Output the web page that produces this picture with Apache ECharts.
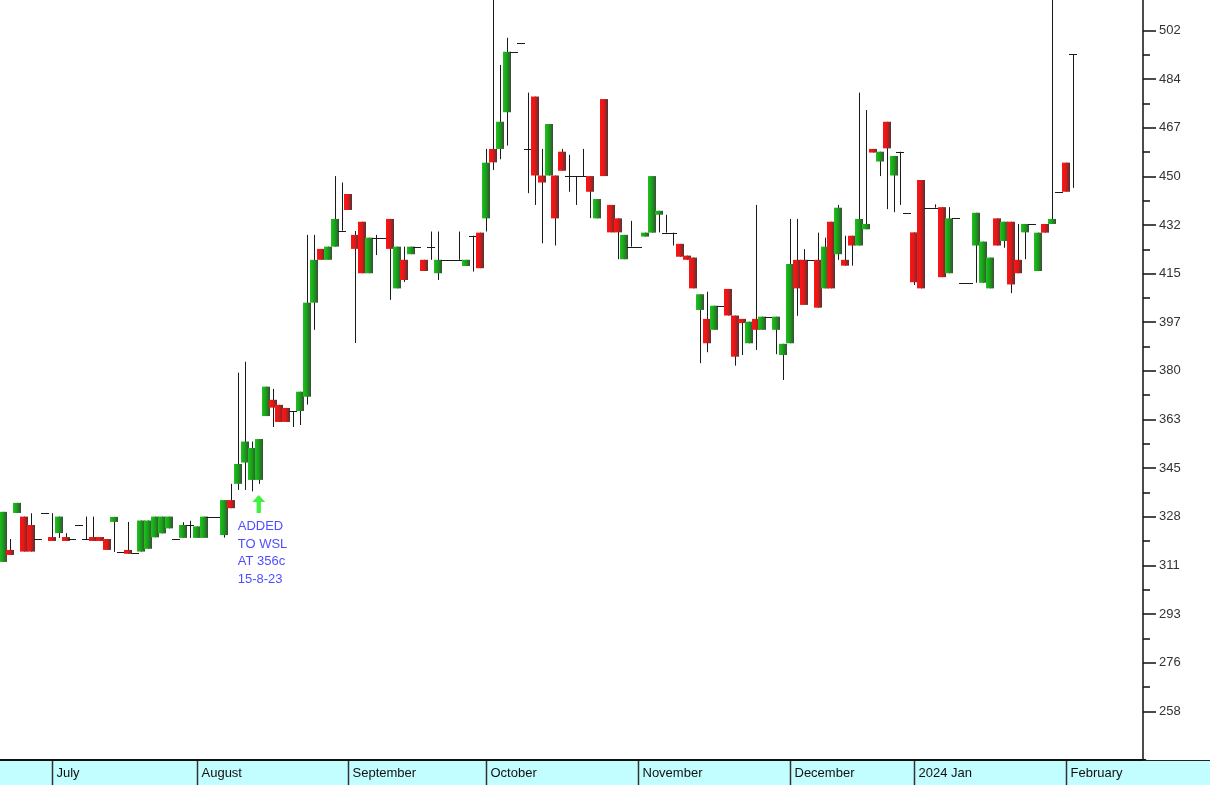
<!DOCTYPE html>
<html><head><meta charset="utf-8">
<script src="https://cdn.jsdelivr.net/npm/echarts@6/dist/echarts.min.js"></script>
<style>html,body{margin:0;padding:0;background:#fff;}#c{width:1210px;height:785px;}</style>
</head><body><div id="c"></div>
<script>
// ---- trading days (categories) ----
const junDays = [21,22,23,26,27,28,29,30];
const julDays = [3,4,5,6,7,10,11,12,13,14,17,18,19,20,21,24,25,26,27,28,31];
const augDays = [1,2,3,4,7,8,10,11,14,15,16,17,18,21,22,23,24,25,28,29,30,31];
const sepDays = [1,4,5,6,7,8,11,12,13,14,15,18,19,20,21,22,26,27,28,29];
const octDays = [2,3,4,5,6,9,10,11,12,13,16,17,18,19,20,23,24,25,26,27,30,31];
const novDays = [1,2,3,6,7,8,9,10,13,14,15,16,17,20,21,22,23,24,27,28,29,30];
const decDays = [1,4,5,6,7,8,11,12,13,14,15,18,19,20,21,22,27,28];
const janDays = [2,3,4,5,8,9,10,11,12,15,16,17,18,19,22,23,24,25,26,29,30,31];
const febDays = [1,2,5,6,7,8,9,12,13,14,15];
const monthNames = ['June','July','August','September','October','November','December','2024 Jan','February'];

// ---- price series (cents) ----
const opens = [311.8,316.1,329.3,328.0,325.0,319.9,329.2,320.7,322.1,320.7,320.0,325.0,320.0,320.7,320.7,320.0,326.1,315.4,316.1,315.0,
315.5,316.5,320.6,322.0,323.8,320.0,320.4,325.0,320.4,320.4,328.0,328.0,321.4,333.9,339.7,347.3,341.1,341.1,363.9,369.7,
367.9,366.8,365.7,365.7,370.8,404.4,423.6,419.7,424.4,430.1,443.2,428.6,433.3,414.9,427.4,427.4,434.3,409.5,419.7,421.7,
424.4,419.7,424.4,414.9,419.7,419.7,419.7,417.5,428.3,429.4,434.5,459.3,459.3,472.4,494.0,497.3,459.2,478.0,449.8,449.8,
449.8,458.3,449.6,449.6,449.6,449.6,434.5,477.1,439.3,434.5,419.9,424.4,424.4,428.0,429.4,435.8,429.4,429.4,425.4,421.2,
420.5,401.8,398.6,394.7,403.3,409.3,399.8,398.6,389.9,398.6,394.7,399.4,394.7,385.7,389.9,419.7,419.7,419.7,419.7,409.5,
433.3,421.7,419.7,428.3,424.8,430.6,459.3,454.8,469.0,449.8,458.3,436.5,429.5,448.2,438.3,438.3,438.5,414.9,434.5,411.5,
411.5,424.8,411.5,409.5,434.5,426.4,433.3,419.7,429.5,432.5,415.7,432.5,432.5,444.0,454.4,493.2];
const highs = [329.7,320.0,332.9,328.0,329.2,319.9,329.2,329.2,328.0,322.1,320.0,325.0,328.0,328.0,320.7,320.0,327.9,315.4,326.1,315.0,
326.6,326.6,328.0,328.0,328.0,320.0,326.0,326.5,324.5,328.0,328.0,328.0,333.9,339.7,379.4,383.3,354.8,355.7,374.4,373.6,
367.9,366.8,365.7,372.6,428.6,428.6,423.6,424.4,449.6,447.3,443.2,430.0,433.3,427.6,428.6,427.4,434.3,424.4,424.4,424.4,
424.4,419.7,429.8,429.8,419.7,419.7,429.8,419.7,428.3,429.4,459.3,525.0,489.3,499.0,494.0,497.3,479.4,478.0,459.3,468.2,
449.8,459.3,457.2,449.6,459.3,449.6,441.4,477.1,439.3,434.5,428.6,433.6,424.4,429.4,449.6,437.2,435.8,429.4,425.4,421.2,
420.5,407.4,408.3,403.3,403.3,409.3,399.8,398.6,397.6,439.3,399.4,399.4,399.4,389.7,434.3,434.3,423.5,419.7,429.4,427.6,
433.3,439.3,428.3,428.3,479.4,473.2,459.3,458.3,469.0,456.8,458.3,436.5,429.5,448.2,438.3,439.5,438.5,438.5,434.5,411.5,
411.5,436.5,426.2,420.5,434.5,433.3,433.3,432.5,432.5,432.5,429.4,432.5,525.0,444.0,454.4,493.2];
const lows = [311.8,314.3,329.3,315.5,315.5,319.9,329.2,319.3,320.4,319.3,320.0,325.0,320.0,319.3,319.3,316.1,315.4,315.4,314.7,315.0,
315.5,316.5,320.6,322.0,323.8,320.0,320.4,320.4,320.4,320.4,328.0,328.0,320.5,331.0,337.5,337.5,337.0,339.7,363.9,360.0,
361.8,361.8,360.0,360.7,368.0,394.7,419.7,419.7,424.4,430.1,437.5,390.0,414.9,414.9,421.4,427.4,405.4,409.5,411.8,421.7,
424.4,415.7,419.7,412.5,419.7,419.7,419.7,417.5,415.5,416.7,429.8,451.8,455.6,460.5,494.0,497.3,443.5,439.3,425.6,449.8,
424.8,451.5,444.0,439.3,449.6,434.6,434.5,449.6,429.5,419.9,419.9,424.4,424.4,428.0,429.4,429.5,429.4,424.8,420.8,419.7,
409.5,382.8,386.7,394.7,403.3,399.8,381.9,385.7,389.9,387.5,394.7,399.4,386.0,376.8,389.9,399.7,403.6,419.7,402.6,409.5,
409.5,419.7,417.6,417.6,424.8,430.6,458.0,449.6,437.8,436.7,439.3,436.5,410.7,409.5,438.3,438.3,413.5,414.9,434.5,411.5,
411.5,411.5,411.5,409.5,424.8,424.0,407.8,414.9,419.9,432.5,415.7,429.4,432.5,444.0,444.0,445.4];
const closes = [329.7,314.3,332.9,315.5,315.5,319.9,329.2,319.3,328.0,319.3,320.0,325.0,320.0,319.3,319.3,316.1,327.9,315.4,314.7,315.0,
326.6,326.6,328.0,328.0,328.0,320.0,325.0,325.0,324.5,328.0,328.0,328.0,333.9,331.0,346.8,354.8,352.5,355.7,374.4,366.9,
361.8,361.8,365.7,372.6,404.4,419.7,419.7,424.4,434.3,430.1,437.5,423.6,414.9,427.6,427.4,427.4,423.6,424.4,412.5,424.4,
424.4,415.7,424.4,419.7,419.7,419.7,419.7,419.7,428.3,416.7,454.4,454.5,469.0,494.0,494.0,497.3,459.2,449.8,447.3,468.2,
434.5,451.5,449.6,449.6,449.6,444.0,441.4,449.6,429.5,429.5,428.6,424.4,424.4,429.4,449.6,437.2,429.4,429.4,420.8,419.7,
409.5,407.4,389.9,403.3,403.3,399.8,385.1,397.1,397.6,394.7,399.4,399.4,399.4,389.7,418.2,409.5,403.6,419.7,402.6,424.4,
409.5,438.3,417.6,424.8,434.3,432.5,458.0,458.3,459.5,456.8,458.3,436.5,411.7,409.5,438.3,438.3,413.5,434.5,434.5,411.5,
411.5,436.5,426.2,420.5,424.8,433.3,410.9,414.9,432.5,432.5,429.4,429.4,434.3,444.0,444.0,493.2];

// ---- axis tick labels ----
const yTickLabels = ['258','276','293','311','328','345','363','380','397','415','432','450','467','484','502'];
const yTickFirst = 258.45, yTickStep = 17.37;
const yMin = 241.08, yMax = 512.48;

// ---- annotation ----
const noteText = 'ADDED\nTO WSL\nAT 356c\n15-8-23';
const noteDayIndex = 37, notePrice = 332.5;

// build categories
const monthLists = [[2023,6,junDays],[2023,7,julDays],[2023,8,augDays],[2023,9,sepDays],[2023,10,octDays],[2023,11,novDays],[2023,12,decDays],[2024,1,janDays],[2024,2,febDays]];
const categories = [], monthStarts = [], monthStartName = {};
monthLists.forEach((m, mi) => {
  m[2].forEach((d, di) => {
    if (di === 0 && mi > 0) { monthStarts.push([categories.length]); monthStartName[categories.length] = monthNames[mi]; }
    categories.push(m[0] + '-' + String(m[1]).padStart(2,'0') + '-' + String(d).padStart(2,'0'));
  });
});
const candleData = opens.map((o, i) => [i, o, closes[i], lows[i], highs[i]]);
const majorTicks = yTickLabels.map((_, k) => +(yTickFirst + k * yTickStep).toFixed(3));
const minorTicks = yTickLabels.slice(1).map((_, k) => +(yTickFirst + (k + 0.5) * yTickStep).toFixed(3));

const greenGrad = new echarts.graphic.LinearGradient(0,0,1,0,[{offset:0,color:'#22c022'},{offset:0.5,color:'#17a017'},{offset:1,color:'#3d4a3d'}]);
const redGrad = new echarts.graphic.LinearGradient(0,0,1,0,[{offset:0,color:'#ff1414'},{offset:0.5,color:'#e01818'},{offset:1,color:'#4d3535'}]);
const fontFam = '"Liberation Sans", Arial, sans-serif';

function renderCandle(params, api) {
  const i = api.value(0), o = api.value(1), c = api.value(2), l = api.value(3), h = api.value(4);
  const pO = api.coord([i, o]), pC = api.coord([i, c]), pL = api.coord([i, l]), pH = api.coord([i, h]);
  const cx = Math.round(pO[0]);
  const children = [];
  if (Math.abs(pH[1] - pL[1]) > 0.5) {
    children.push({type:'line', shape:{x1:cx+0.5, y1:pH[1], x2:cx+0.5, y2:pL[1]}, style:{stroke:'#1a1a1a', lineWidth:1}});
  }
  const left = cx - 4, w = 8;
  if (Math.abs(pO[1] - pC[1]) < 1) {
    const y = Math.round(pO[1]) + 0.5;
    children.push({type:'line', shape:{x1:left, y1:y, x2:left+w, y2:y}, style:{stroke:'#1a1a1a', lineWidth:1}});
  } else {
    const top = Math.min(pO[1], pC[1]), hgt = Math.abs(pO[1] - pC[1]);
    children.push({type:'rect', shape:{x:left, y:top, width:w, height:hgt}, style:{fill: c > o ? greenGrad : redGrad}});
  }
  return {type:'group', children};
}

// month separator drawn at the centre of the previous month's last day, name to its right
function renderMonth(params, api) {
  const idx = api.value(0);
  const p = api.coord([idx - 1, yMin]);
  const x = Math.round(p[0]) + 0.5, y0 = p[1];
  return {type:'group', children:[
    {type:'line', shape:{x1:x, y1:y0 + 1, x2:x, y2:y0 + 26}, style:{stroke:'#333', lineWidth:1.5}},
    {type:'text', x:x + 4, y:y0 + 13, style:{text:monthStartName[idx], fill:'#111', font:'13px ' + fontFam, verticalAlign:'middle', align:'left'}}
  ]};
}

const chart = echarts.init(document.getElementById('c'));
chart.setOption({
  animation:false,
  backgroundColor:'#ffffff',
  graphic:[
    {type:'rect', left:0, bottom:0, shape:{width:1210, height:25}, style:{fill:'#c2fdff'}, z:-10, silent:true},
    {type:'line', shape:{x1:1143, y1:760.5, x2:1210, y2:760.5}, style:{stroke:'#222', lineWidth:1}, z:10}
  ],
  grid:{left:-0.3, top:0, width:1145.7, bottom:25, containLabel:false},
  xAxis:{
    type:'category', data:categories, boundaryGap:true,
    axisLine:{show:true, lineStyle:{color:'#111', width:2}},
    axisTick:{show:false}, axisLabel:{show:false}, splitLine:{show:false}
  },
  yAxis:[{
    type:'value', position:'right', offset:-2.4, min:yMin, max:yMax,
    axisLine:{show:true, lineStyle:{color:'#111', width:1.5}},
    axisTick:{show:true, length:13, customValues:majorTicks, lineStyle:{color:'#111', width:1.5}},
    axisLabel:{show:true, customValues:majorTicks, margin:16, color:'#333', fontSize:13, fontFamily:fontFam,
      formatter:(v) => { const k = Math.round((v - yTickFirst) / yTickStep); return yTickLabels[k] || ''; }},
    splitLine:{show:false}
  },{
    type:'value', position:'right', offset:-2.4, min:yMin, max:yMax,
    axisLine:{show:false},
    axisTick:{show:true, length:7, customValues:minorTicks, lineStyle:{color:'#111', width:1.5}},
    axisLabel:{show:false}, splitLine:{show:false}
  }],
  series:[{
    type:'custom', renderItem:renderCandle, data:candleData, clip:true,
    encode:{x:0, y:[1,2,3,4]}
  },{
    type:'custom', renderItem:renderMonth, data:monthStarts, clip:false, silent:true, z:20,
    encode:{x:0}
  },{
    type:'scatter', data:[[noteDayIndex, notePrice]], symbol:'path://M6,0 L12,7 L8,7 L8,18 L4,18 L4,7 L0,7 Z',
    symbolSize:[13,18], itemStyle:{color:'#11ee11'}, z:5,
    label:{show:true, position:'bottom', distance:5, formatter:noteText, align:'left', offset:[-21,0],
      color:'#2020ff', fontSize:13, lineHeight:17.5, fontFamily:fontFam}
  }]
});
</script></body></html>
